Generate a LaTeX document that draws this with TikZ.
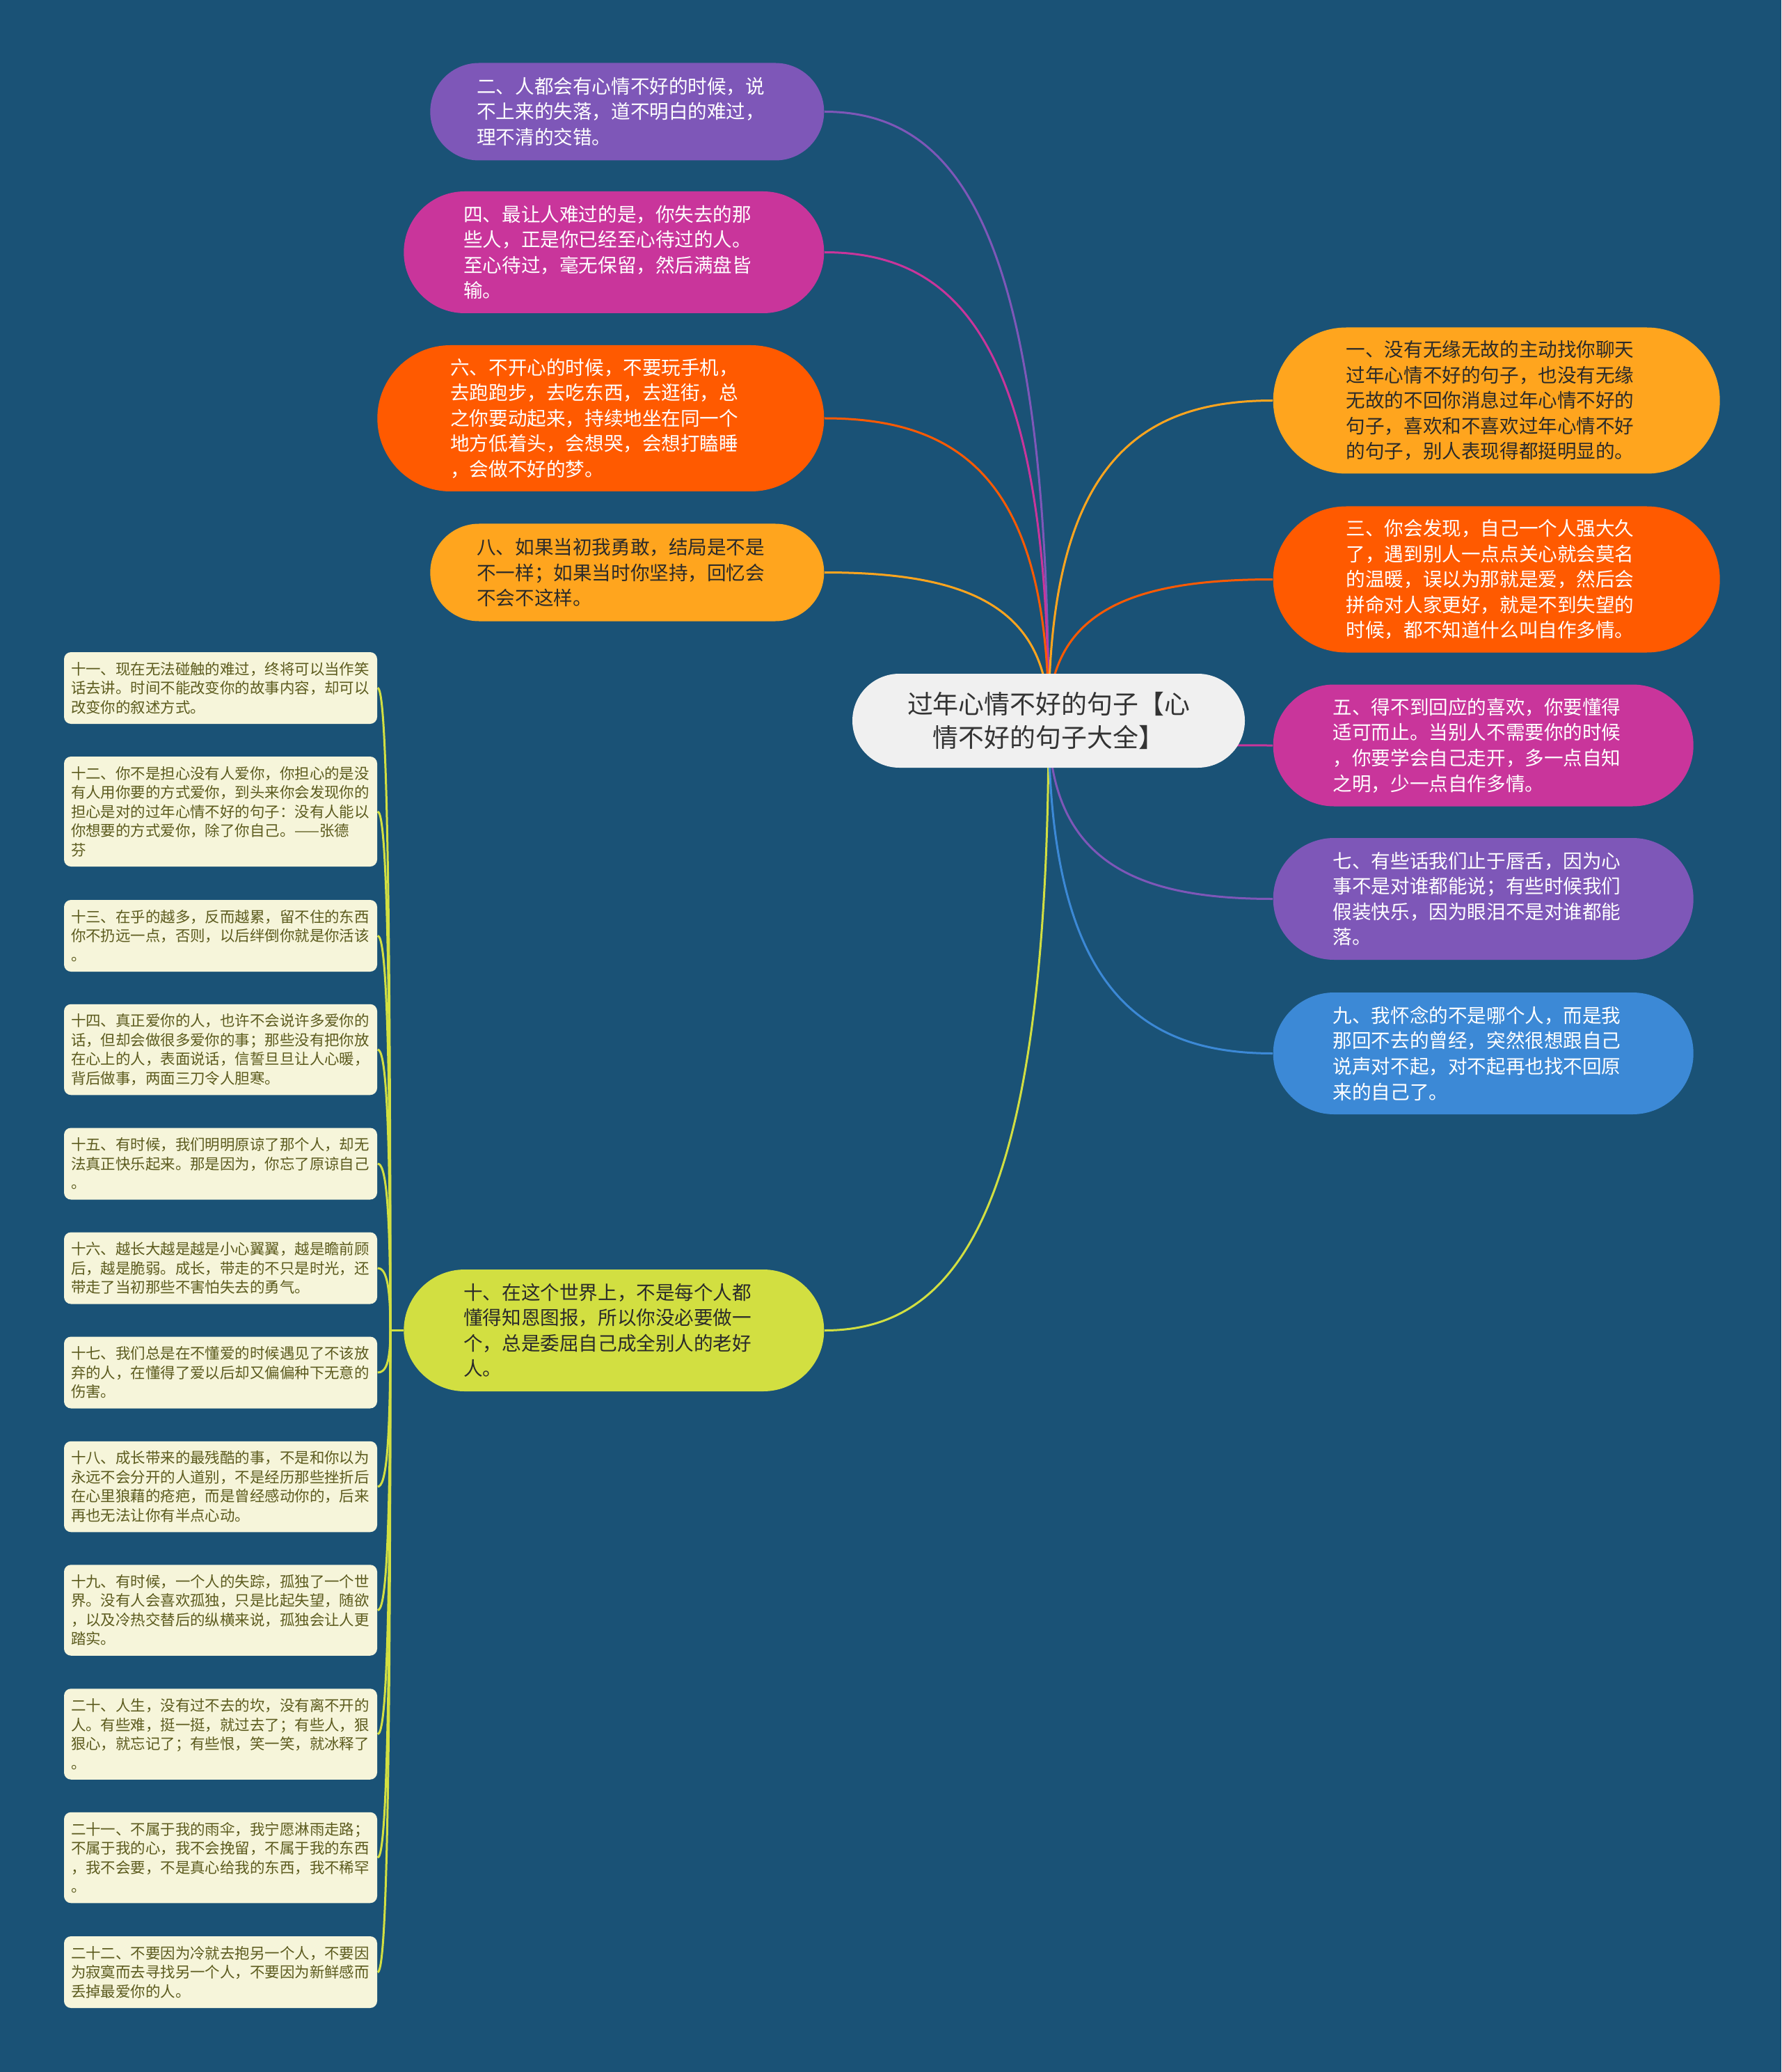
\documentclass[tikz,border=0pt]{standalone}
\usepackage{fontspec}
\usepackage{tikz}
\usetikzlibrary{positioning, calc, backgrounds}
\newfontfamily\cjk{Noto Sans CJK SC}
\definecolor{cBg}      {HTML}{1A5276}
\definecolor{cRoot}    {HTML}{F0F0F0}
\definecolor{cRootText}{HTML}{333333}
\definecolor{cDark}    {HTML}{2A2A2A}
\definecolor{cPurple}  {HTML}{7E57B8}
\definecolor{cMagenta} {HTML}{C9359B}
\definecolor{cRed}     {HTML}{FF5A00}
\definecolor{cAmber}   {HTML}{FFA51E}
\definecolor{cLime}    {HTML}{D2DF41}
\definecolor{cBlue}    {HTML}{3C89D6}
\definecolor{cLeaf}    {HTML}{F6F5DA}
\definecolor{cLeafText}{HTML}{5C5B1E}
\tikzset{
  pill/.style={rectangle, rounded corners={(#1+1)*1.75mm}, minimum height={(#1+1)*3.5mm},
    minimum width={#1*3.8mm+45.2mm}, inner sep=0pt, text width=43.2mm, align=left,
    font=\cjk\fontsize{7.85pt}{10.4pt}\selectfont},
  leaf/.style={rectangle, rounded corners=1mm, fill=cLeaf, text=cLeafText,
    minimum height={#1*2.75mm+2.05mm}, inner xsep=1mm, inner ysep=0pt, text width=43mm,
    align=left, font=\cjk\fontsize{6.1pt}{7.82pt}\selectfont},
  link/.style={line width=0.3mm, to path={.. controls
    ($(\tikztostart)!0.8!(\tikztostart |- \tikztotarget)$) and
    ($(\tikztotarget)!0.6!(\tikztostart |- \tikztotarget)$) .. (\tikztotarget)}},
}
\begin{document}
\begin{tikzpicture}
  % centre topic
  \node[rectangle, rounded corners=6.75mm, fill=cRoot, text=cRootText, minimum width=56.4mm,
        minimum height=13.5mm, align=center, font=\cjk\fontsize{10.5pt}{13.9pt}\selectfont]
        (root) at (150.7mm, -103.55mm) {过年心情不好的句子【心\\情不好的句子大全】};
  % left branches
  \node[pill=3, fill=cPurple, text=white, anchor=east] (b2) at (118.5mm, -16.05mm)
        {二、人都会有心情不好的时候，说\\不上来的失落，道不明白的难过，\\理不清的交错。};
  \node[pill=4, fill=cMagenta, text=white, anchor=east] (b4) at (118.5mm, -36.25mm)
        {四、最让人难过的是，你失去的那\\些人，正是你已经至心待过的人。\\至心待过，毫无保留，然后满盘皆\\输。};
  \node[pill=5, fill=cRed, text=white, anchor=east] (b6) at (118.5mm, -60.1mm)
        {六、不开心的时候，不要玩手机，\\去跑跑步，去吃东西，去逛街，总\\之你要动起来，持续地坐在同一个\\地方低着头，会想哭，会想打瞌睡\\，会做不好的梦。};
  \node[pill=3, fill=cAmber, text=cDark, anchor=east] (b8) at (118.5mm, -82.25mm)
        {八、如果当初我勇敢，结局是不是\\不一样；如果当时你坚持，回忆会\\不会不这样。};
  \node[pill=4, fill=cLime, text=cDark, anchor=east] (b10) at (118.5mm, -191.15mm)
        {十、在这个世界上，不是每个人都\\懂得知恩图报，所以你没必要做一\\个，总是委屈自己成全别人的老好\\人。};
  % right branches
  \node[pill=5, fill=cAmber, text=cDark, anchor=west] (b1) at (182.9mm, -57.55mm)
        {一、没有无缘无故的主动找你聊天\\过年心情不好的句子，也没有无缘\\无故的不回你消息过年心情不好的\\句子，喜欢和不喜欢过年心情不好\\的句子，别人表现得都挺明显的。};
  \node[pill=5, fill=cRed, text=white, anchor=west] (b3) at (182.9mm, -83.25mm)
        {三、你会发现，自己一个人强大久\\了，遇到别人一点点关心就会莫名\\的温暖，误以为那就是爱，然后会\\拼命对人家更好，就是不到失望的\\时候，都不知道什么叫自作多情。};
  \node[pill=4, fill=cMagenta, text=white, anchor=west] (b5) at (182.9mm, -107.1mm)
        {五、得不到回应的喜欢，你要懂得\\适可而止。当别人不需要你的时候\\，你要学会自己走开，多一点自知\\之明，少一点自作多情。};
  \node[pill=4, fill=cPurple, text=white, anchor=west] (b7) at (182.9mm, -129.15mm)
        {七、有些话我们止于唇舌，因为心\\事不是对谁都能说；有些时候我们\\假装快乐，因为眼泪不是对谁都能\\落。};
  \node[pill=4, fill=cBlue, text=white, anchor=west] (b9) at (182.9mm, -151.35mm)
        {九、我怀念的不是哪个人，而是我\\那回不去的曾经，突然很想跟自己\\说声对不起，对不起再也找不回原\\来的自己了。};
  % leaves of b10
  \node[leaf=3] (l11) at (31.7mm, -98.85mm)
        {十一、现在无法碰触的难过，终将可以当作笑\\话去讲。时间不能改变你的故事内容，却可以\\改变你的叙述方式。};
  \node[leaf=5] (l12) at (31.7mm, -116.6mm)
        {十二、你不是担心没有人爱你，你担心的是没\\有人用你要的方式爱你，到头来你会发现你的\\担心是对的过年心情不好的句子：没有人能以\\你想要的方式爱你，除了你自己。——张德\\芬};
  \node[leaf=3] (l13) at (31.7mm, -134.45mm)
        {十三、在乎的越多，反而越累，留不住的东西\\你不扔远一点，否则，以后绊倒你就是你活该\\。};
  \node[leaf=4] (l14) at (31.7mm, -150.8mm)
        {十四、真正爱你的人，也许不会说许多爱你的\\话，但却会做很多爱你的事；那些没有把你放\\在心上的人，表面说话，信誓旦旦让人心暖，\\背后做事，两面三刀令人胆寒。};
  \node[leaf=3] (l15) at (31.7mm, -167.2mm)
        {十五、有时候，我们明明原谅了那个人，却无\\法真正快乐起来。那是因为，你忘了原谅自己\\。};
  \node[leaf=3] (l16) at (31.7mm, -182.2mm)
        {十六、越长大越是越是小心翼翼，越是瞻前顾\\后，越是脆弱。成长，带走的不只是时光，还\\带走了当初那些不害怕失去的勇气。};
  \node[leaf=3] (l17) at (31.7mm, -197.2mm)
        {十七、我们总是在不懂爱的时候遇见了不该放\\弃的人，在懂得了爱以后却又偏偏种下无意的\\伤害。};
  \node[leaf=4] (l18) at (31.7mm, -213.6mm)
        {十八、成长带来的最残酷的事，不是和你以为\\永远不会分开的人道别，不是经历那些挫折后\\在心里狼藉的疮疤，而是曾经感动你的，后来\\再也无法让你有半点心动。};
  \node[leaf=4] (l19) at (31.7mm, -231.35mm)
        {十九、有时候，一个人的失踪，孤独了一个世\\界。没有人会喜欢孤独，只是比起失望，随欲\\，以及冷热交替后的纵横来说，孤独会让人更\\踏实。};
  \node[leaf=4] (l20) at (31.7mm, -249.15mm)
        {二十、人生，没有过不去的坎，没有离不开的\\人。有些难，挺一挺，就过去了；有些人，狠\\狠心，就忘记了；有些恨，笑一笑，就冰释了\\。};
  \node[leaf=4] (l21) at (31.7mm, -266.9mm)
        {二十一、不属于我的雨伞，我宁愿淋雨走路；\\不属于我的心，我不会挽留，不属于我的东西\\，我不会要，不是真心给我的东西，我不稀罕\\。};
  \node[leaf=3] (l22) at (31.7mm, -283.35mm)
        {二十二、不要因为冷就去抱另一个人，不要因\\为寂寞而去寻找另一个人，不要因为新鲜感而\\丢掉最爱你的人。};
  \coordinate (hub) at (56.1mm, -191.15mm);
  % connectors, under the nodes
  \begin{scope}[on background layer]
    \fill[cBg] (0,0) rectangle (256mm, -297.7mm);
    \foreach \b/\c in {b2/cPurple, b4/cMagenta, b6/cRed, b8/cAmber, b10/cLime}{
      \draw[link, draw=\c] (root.center) to (\b.east);
    }
    \foreach \b/\c in {b1/cAmber, b3/cRed, b5/cMagenta, b7/cPurple, b9/cBlue}{
      \draw[link, draw=\c] (root.center) to (\b.west);
    }
    \draw[line width=0.3mm, draw=cLime] (b10.west) -- (hub);
    \foreach \i in {11,...,22}{
      \draw[link, draw=cLime] (hub) to (l\i.east);
    }
  \end{scope}
\end{tikzpicture}
\end{document}
